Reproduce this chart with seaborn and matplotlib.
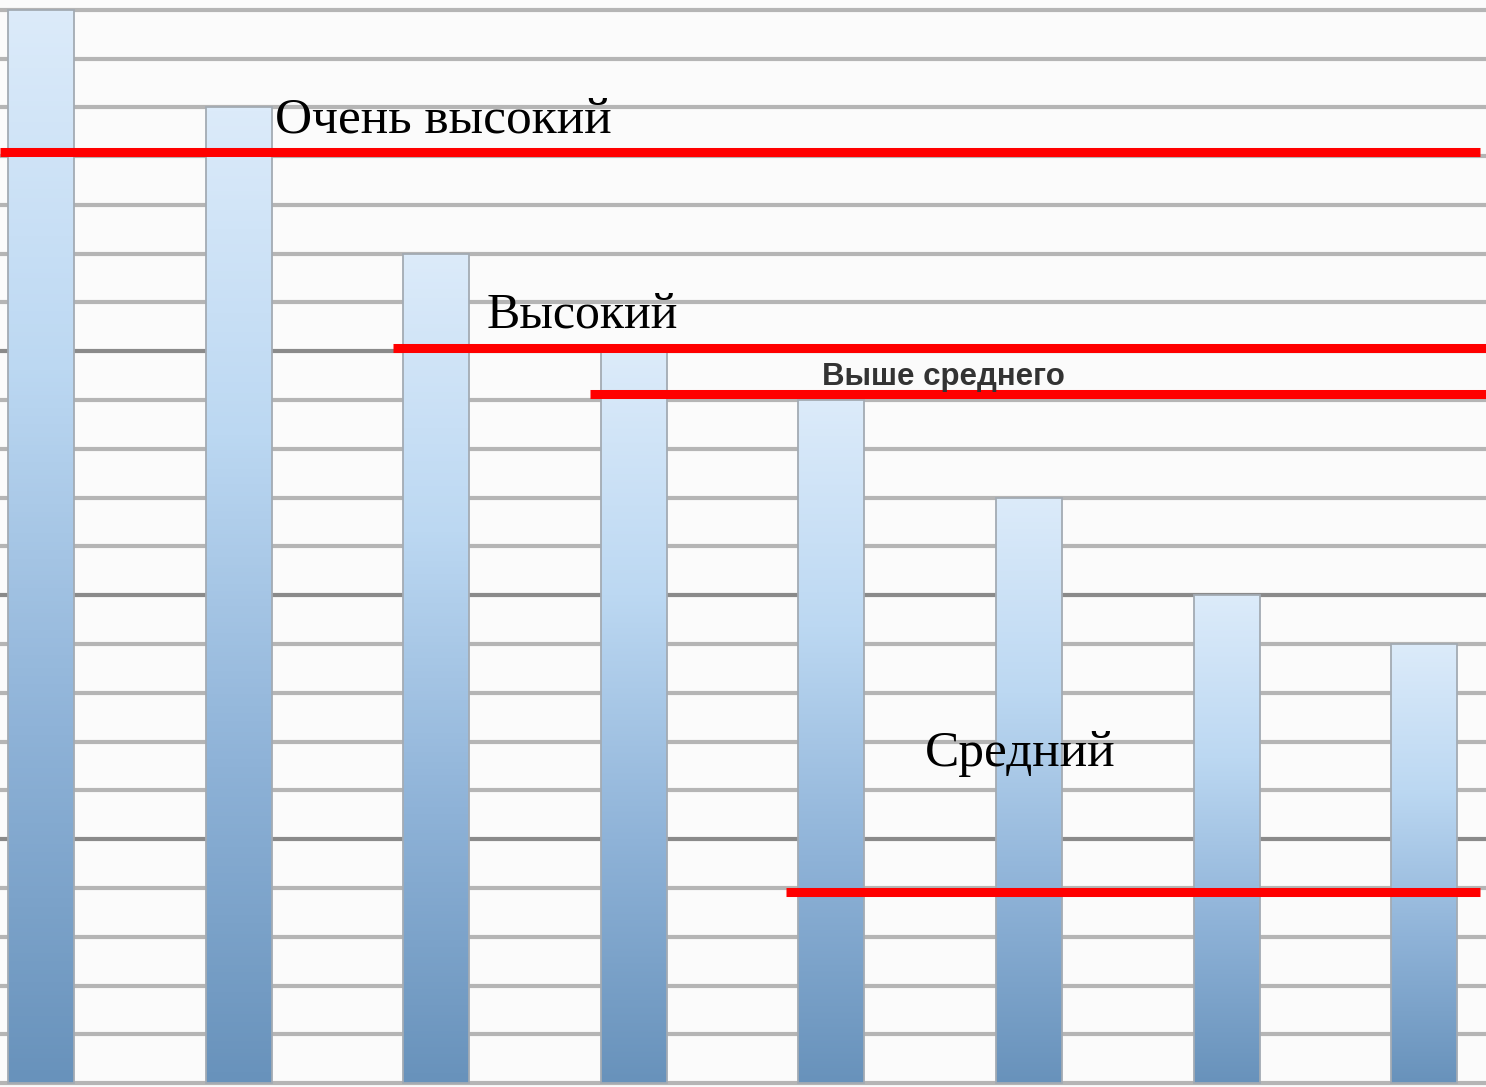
import numpy as np
import pandas as pd
import matplotlib
matplotlib.use('Agg')
import matplotlib.pyplot as plt
import seaborn as sns
from matplotlib.colors import LinearSegmentedColormap

# ---- данные ----
categories = ['1', '2', '3', '4', '5', '6', '7', '8']
values = [22, 20, 17, 15, 14, 12, 10, 9]

level_names = ['Очень высокий', 'Высокий', 'Выше среднего', 'Средний']
level_values = [19.08, 15.06, 14.12, 3.91]

df = pd.DataFrame({'cat': categories, 'val': values})

sns.set_theme(style='white')
plt.rcParams['font.family'] = ['Liberation Serif', 'DejaVu Serif']

fig = plt.figure(figsize=(14.86, 10.87), dpi=100)
fig.patch.set_facecolor('#fbfbfb')
ax = fig.add_axes([0, 0, 1, 1])
ax.set_facecolor('#fbfbfb')

sns.barplot(data=df, x='cat', y='val', width=0.334, color='#9dbfdf',
            edgecolor='#a3abb3', linewidth=1.3, ax=ax, zorder=2)

# градиент внутри столбцов
grad_cmap = LinearSegmentedColormap.from_list(
    'bar_grad', ['#6892bb', '#8fb3d8', '#bcd8f2', '#dcebfa'])
grad = np.linspace(0, 1, 256).reshape(-1, 1)
for p in ax.patches:
    x0, y0 = p.get_x(), p.get_y()
    w, h = p.get_width(), p.get_height()
    p.set_facecolor('none')
    im = ax.imshow(grad, cmap=grad_cmap, origin='lower', aspect='auto',
                   extent=[x0, x0 + w, y0, y0 + h], zorder=2.5)
    im.set_clip_path(p)
    p.set_zorder(3)

# сетка
for yv in range(0, 23):
    major = yv in (5, 10, 15)
    ax.axhline(yv, color='#8a8a8a' if major else '#b5b5b5',
               linewidth=3.0, zorder=1)

# красные линии уровней
ax.hlines(level_values[0], -0.21, 7.283, color='#ff0000', linewidth=6.5, zorder=5)
ax.hlines(level_values[1], 1.781, 7.4, color='#ff0000', linewidth=6.5, zorder=5)
ax.hlines(level_values[2], 2.778, 7.4, color='#ff0000', linewidth=6.5, zorder=5)
ax.hlines(level_values[3], 3.77, 7.283, color='#ff0000', linewidth=6.5, zorder=5)

# подписи
ax.text(1.184, 19.49, level_names[0], fontsize=37, color='black',
        va='baseline', ha='left', zorder=6)
ax.text(2.257, 15.49, level_names[1], fontsize=36, color='black',
        va='baseline', ha='left', zorder=6)
ax.text(3.952, 14.30, level_names[2], fontsize=22.5, color='#333333',
        family=['Liberation Sans', 'DejaVu Sans'], fontweight='bold',
        va='baseline', ha='left', zorder=6)
ax.text(4.474, 6.50, level_names[3], fontsize=37, color='black',
        va='baseline', ha='left', zorder=6)

ax.set_xlim(-0.2075, 7.313)
ax.set_ylim(-0.08, 22.2)
ax.set_xlabel('')
ax.set_ylabel('')
ax.set_xticks([])
ax.set_yticks([])
for s in ax.spines.values():
    s.set_visible(False)

fig.savefig('out.png', dpi=100, facecolor=fig.get_facecolor())
